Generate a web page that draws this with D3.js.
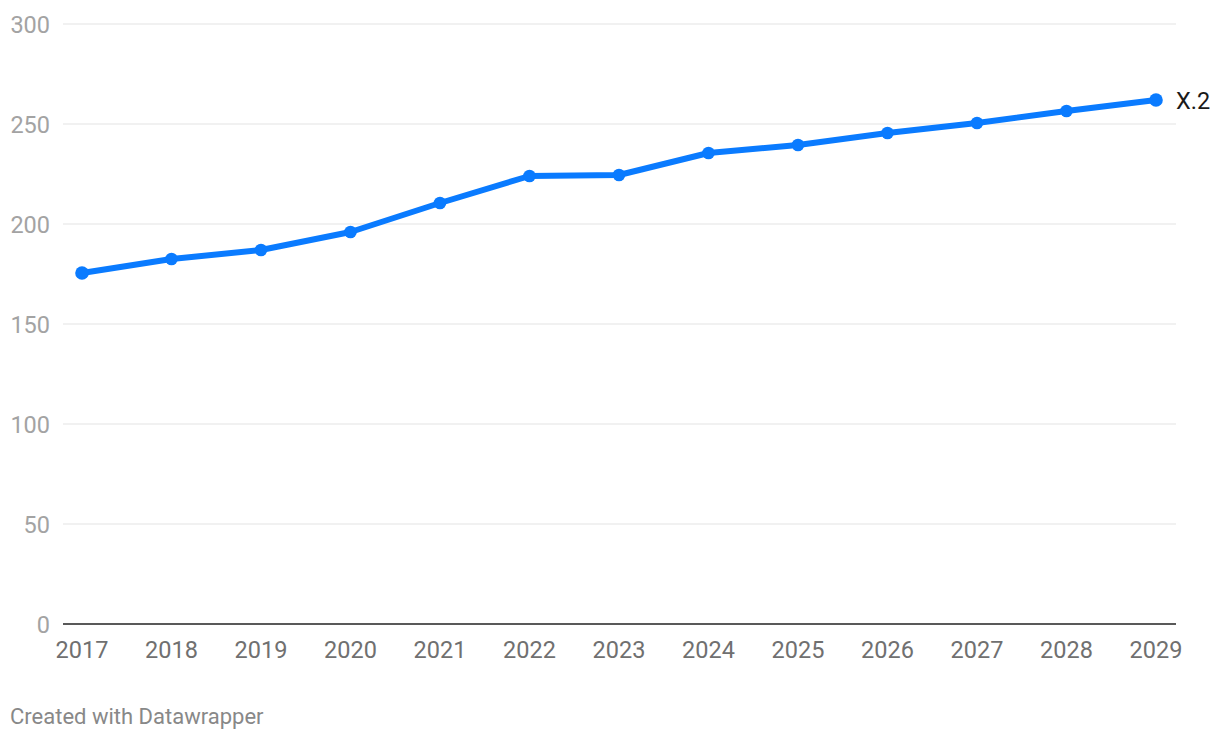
<!DOCTYPE html>
<html>
<head>
<meta charset="utf-8">
<script src="https://cdn.jsdelivr.net/npm/d3@7"></script>
<style>
  body { margin: 0; background: #fff; font-family: Roboto, sans-serif; }
</style>
</head>
<body>
<div id="chart"></div>
<script>
var w = 1220;
var h = 740;

var years = [2017, 2018, 2019, 2020, 2021, 2022, 2023, 2024, 2025, 2026, 2027, 2028, 2029];
var values = [175.5, 182.5, 187, 196, 210.5, 224, 224.5, 235.5, 239.5, 245.5, 250.5, 256.5, 262];
var yTicks = [0, 50, 100, 150, 200, 250, 300];
var seriesName = "X.2";

var svg = d3.select("#chart").append("svg").attr("width", w).attr("height", h);

var x = d3.scalePoint().domain(years).range([82, 1156]);
var y = d3.scaleLinear().domain([0, 300]).range([624, 24]);

// gridlines
svg.selectAll("line.grid")
  .data(yTicks.filter(function (d) { return d > 0; }))
  .enter()
  .append("line")
  .attr("class", "grid")
  .attr("x1", 63)
  .attr("x2", 1176)
  .attr("y1", function (d) { return y(d); })
  .attr("y2", function (d) { return y(d); })
  .attr("stroke", "#e3e3e3")
  .attr("stroke-width", 1);

svg.append("line")
  .attr("x1", 63)
  .attr("x2", 1176)
  .attr("y1", y(0))
  .attr("y2", y(0))
  .attr("stroke", "#222")
  .attr("stroke-width", 1.5);

// y labels
svg.selectAll("text.ylab")
  .data(yTicks)
  .enter()
  .append("text")
  .attr("class", "ylab")
  .text(function (d) { return d; })
  .attr("x", 50)
  .attr("y", function (d) { return y(d) + 8.5; })
  .attr("text-anchor", "end")
  .attr("font-size", "23.5px")
  .attr("fill", "#a3a3a3");

// x labels
svg.selectAll("text.xlab")
  .data(years)
  .enter()
  .append("text")
  .attr("class", "xlab")
  .text(function (d) { return d; })
  .attr("x", function (d) { return x(d); })
  .attr("y", 658)
  .attr("text-anchor", "middle")
  .attr("font-size", "23.5px")
  .attr("fill", "#707070");

var color = "#0a7bff";

var line = d3.line()
  .x(function (d, i) { return x(years[i]); })
  .y(function (d) { return y(d); });

svg.append("path")
  .datum(values)
  .attr("d", line)
  .attr("fill", "none")
  .attr("stroke", color)
  .attr("stroke-width", 6)
  .attr("stroke-linejoin", "round");

svg.selectAll("circle")
  .data(values)
  .enter()
  .append("circle")
  .attr("cx", function (d, i) { return x(years[i]); })
  .attr("cy", function (d) { return y(d); })
  .attr("r", function (d, i) { return (i === 0 || i === values.length - 1) ? 6.8 : 6.3; })
  .attr("fill", color);

svg.append("text")
  .text(seriesName)
  .attr("x", 1176)
  .attr("y", y(values[values.length - 1]) + 8.5)
  .attr("font-size", "23.5px")
  .attr("fill", "#1a1a1a");

svg.append("text")
  .text("Created with Datawrapper")
  .attr("x", 10)
  .attr("y", 724)
  .attr("font-size", "22px")
  .attr("fill", "#888");
</script>
</body>
</html>
